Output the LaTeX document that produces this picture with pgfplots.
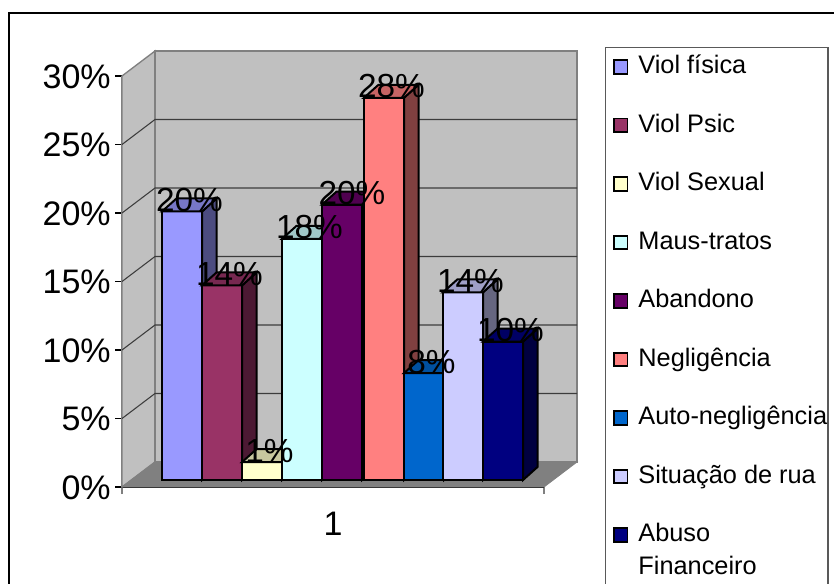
\documentclass[border=0pt]{standalone}
\usepackage{fontspec}
\setmainfont{Liberation Sans}
\usepackage{pgfplots}
\pgfplotsset{compat=1.18}

% Colours of the nine categories
\definecolor{cFisica}{HTML}{9999FF}
\definecolor{cPsic}{HTML}{993366}
\definecolor{cSexual}{HTML}{FFFFCC}
\definecolor{cMaus}{HTML}{CCFFFF}
\definecolor{cAband}{HTML}{660066}
\definecolor{cNeg}{HTML}{FF8080}
\definecolor{cAuto}{HTML}{0066CC}
\definecolor{cRua}{HTML}{CCCCFF}
\definecolor{cAbuso}{HTML}{000080}
\definecolor{wall}{HTML}{C0C0C0}
\definecolor{floorc}{HTML}{808080}
\definecolor{grid}{HTML}{3C3C3C}

% One 3D column: left edge, value, colour, legend text
\newcommand{\column}[4]{%
  \addplot[fill=#3, draw=black, line width=1.5pt, line join=miter] coordinates
    {(#1,0) (#1,#2) (#1+40,#2) (#1+40,0)} -- cycle;
  \addlegendentry{#4}
  \addplot[forget plot, fill=#3!50!black, draw=black, line width=1.5pt] coordinates
    {(#1+40,0) (#1+40,#2) (#1+54.5,#2+0.95) (#1+54.5,0.95)} -- cycle;
  \addplot[forget plot, fill=#3!78!black, draw=black, line width=1.5pt] coordinates
    {(#1,#2) (#1+14.5,#2+0.95) (#1+54.5,#2+0.95) (#1+40,#2)} -- cycle;
}
% Wall gridline at one percentage level
\newcommand{\gridline}[1]{%
  \addplot[forget plot, color=grid, line width=0.8pt] coordinates
    {(122,#1) (155,#1+1.825) (577,#1+1.825)};
}

\begin{document}
\begin{tikzpicture}
\useasboundingbox (0,0) rectangle (625.5pt,437.25pt);
\clip (0,0) rectangle (625.5pt,437.25pt);

% Chart frame, running past the right and bottom edges
\draw[black, line width=1.6pt] (7pt,-20pt) rectangle (650pt,427.6pt);
% Legend box
\draw[black!65, line width=0.8pt] (453.8pt,-20pt) rectangle (621pt,401.4pt);

% Front plane: value axis, walls and floor
\begin{axis}[
  at={(91.5pt,72pt)}, anchor=south west,
  width=316.5pt, height=308.25pt, scale only axis,
  xmin=122, xmax=544, ymin=0, ymax=30,
  clip=false,
  axis x line=bottom, axis y line=left,
  x axis line style={-, black, line width=1pt},
  y axis line style={-, floorc, line width=1pt},
  tick align=outside,
  major tick length=5.25pt,
  xtick={122,544}, xticklabels={,},
  xtick style={floorc, line width=0.8pt},
  ytick={0,5,10,15,20,25,30},
  ytick style={black, line width=0.8pt},
  /pgf/number format/assume math mode=true,
  yticklabel={\pgfmathprintnumber{\tick}\%},
  yticklabel style={font=\fontsize{25.5}{28}\selectfont, inner sep=0pt, anchor=east, xshift=-3pt, yshift=-0.4pt},
  xlabel={1},
  xlabel style={font=\fontsize{25.5}{28}\selectfont, at={(axis description cs:0.5,-0.119)}, anchor=base, inner sep=0pt},
]
  % Side wall
  \addplot[fill=wall, draw=floorc, line width=1pt] coordinates
    {(122,0) (155,1.825) (155,31.825) (122,30)} -- cycle;
  % Back wall
  \addplot[fill=wall, draw=floorc, line width=1.5pt] coordinates
    {(155,1.825) (155,31.825) (577,31.825) (577,1.825)} -- cycle;
  % Floor
  \addplot[fill=floorc, draw=floorc, line width=0.6pt] coordinates
    {(122,0) (155,1.825) (577,1.825) (544,0)} -- cycle;
  \gridline{5}
  \gridline{10}
  \gridline{15}
  \gridline{20}
  \gridline{25}
\end{axis}

% Column plane, a little behind the front edge of the floor
\begin{axis}[
  at={(91.5pt,77.25pt)}, anchor=south west,
  width=316.5pt, height=308.25pt, scale only axis,
  xmin=122, xmax=544, ymin=0, ymax=30,
  clip=false,
  hide axis,
  legend cell align=left,
  legend image code/.code={%
    \draw[#1, line width=1.4pt] (0pt,-8pt) rectangle (10.2pt,2.2pt);
  },
  legend style={
    at={(368.2pt,334.75pt)}, anchor=north west,
    draw=none, fill=none, inner sep=0pt, outer sep=0pt,
    font=\fontsize{19}{22}\selectfont,
    row sep=0pt,
    nodes={text height=30pt, text depth=13.9pt, inner ysep=0pt, inner xsep=0pt},
    /tikz/every odd column/.append style={column sep=7.5pt},
  },
]
  \column{162}{19.6}{cFisica}{Viol física}
  \column{202}{14.2}{cPsic}{Viol Psic}
  \column{242}{1.3}{cSexual}{Viol Sexual}
  \column{282}{17.6}{cMaus}{Maus-tratos}
  \column{322}{20.1}{cAband}{Abandono}
  \column{364}{27.9}{cNeg}{Negligência}
  \column{404}{7.8}{cAuto}{Auto-negligência}
  \column{443}{13.7}{cRua}{Situação de rua}
  \column{483}{10.1}{cAbuso}{\vtop{\baselineskip=24.75pt\lineskiplimit=-20pt\hbox{Abuso}\hbox{Financeiro}}}

  % Value labels, above the columns
  \addplot[forget plot, draw=none, no markers, point meta=y,
    nodes near coords={\pgfmathprintnumber[fixed, precision=0, assume math mode=true]{\pgfplotspointmeta}\%},
    nodes near coords align={anchor=base},
    every node near coord/.style={font=\fontsize{25}{28}\selectfont, inner sep=0pt, anchor=base, black}]
    coordinates {(189.5,19.6) (229.5,14.2) (269.5,1.3) (309.5,17.6) (352,20.1)
                 (391.5,27.9) (431.5,7.8) (470.5,13.7) (510.5,10.1)};
\end{axis}
\end{tikzpicture}
\end{document}
